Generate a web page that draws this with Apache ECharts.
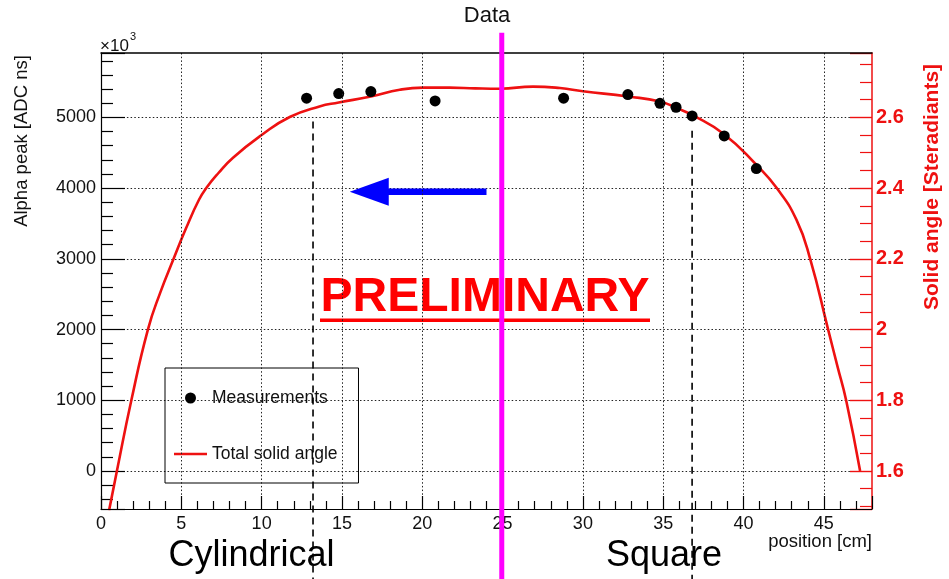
<!DOCTYPE html>
<html><head><meta charset="utf-8">
<script src="https://cdn.jsdelivr.net/npm/echarts@6/dist/echarts.min.js"></script>
<style>html,body{margin:0;padding:0;background:#fff}#chart{width:949px;height:579px}</style>
</head><body><div id="chart"></div>
<script>
// ---- data ----
const measPosition = [12.8, 14.8, 16.8, 20.8, 28.8, 32.8, 34.8, 35.8, 36.8, 38.8, 40.8];
const measAlphaPeak = [5272, 5337, 5365, 5233, 5272, 5322, 5198, 5143, 5021, 4738, 4276];

const curvePosition = [0.5, 0.99, 1.89, 2.92, 3.7, 4.52, 5.3, 6.1, 6.6, 7.3, 8.22, 10.0, 11.75, 13.6, 14.8, 16.8, 18.6, 20.06, 21.7, 23.3, 24.84, 26.9, 28.57, 30.0, 32.8, 34.8, 35.85, 36.8, 38.77, 40.8, 42.07, 43.3, 44.15, 45.27, 45.85, 46.39, 47.26];
const curveSolidAngle = [1.488, 1.600, 1.800, 2.000, 2.106, 2.200, 2.287, 2.367, 2.403, 2.442, 2.486, 2.550, 2.601, 2.631, 2.642, 2.659, 2.678, 2.684, 2.684, 2.682, 2.681, 2.687, 2.683, 2.674, 2.659, 2.645, 2.626, 2.607, 2.553, 2.466, 2.400, 2.310, 2.200, 2.000, 1.896, 1.800, 1.600];

const xTickLabels = [0, 5, 10, 15, 20, 25, 30, 35, 40, 45];
const leftTickLabels = [0, 1000, 2000, 3000, 4000, 5000];
const rightTickLabels = [1.6, 1.8, 2.0, 2.2, 2.4, 2.6];

const cylEdgeCm = 13.2, cylEdgeTop = 4940;
const sqEdgeCm = 36.8, sqEdgeTop = 4810;
const dividerCm = 24.95, dividerTop = 6195;
const lineBottom = -1700;
const arrowFrom = [24.0, 3950], arrowShaftEnd = [17.1, 3950], arrowHead = [16.7, 3950];

const xRange = [0, 48], leftRange = [-537, 5910], rightRange = [1.4926, 2.782];

const FONT = "'Liberation Sans', Arial, Helvetica, sans-serif";
const RED = '#ee1111';

const chart = echarts.init(document.getElementById('chart'), null, {renderer: 'canvas'});

const dotted = {type: [1.5, 2.2], color: '#222', width: 1};

const option = {
  animation: false,
  backgroundColor: '#fff',
  grid: {left: 101, right: 77, top: 53, bottom: 70, containLabel: false},
  xAxis: [{
    type: 'value', min: xRange[0], max: xRange[1], interval: 5, z: 8,
    axisLine: {onZero: false, lineStyle: {color: '#000', width: 1.2}},
    axisTick: {inside: true, length: 13, lineStyle: {color: '#000', width: 1.2}},
    minorTick: {show: true, splitNumber: 5, length: 8, lineStyle: {color: '#000', width: 1.2}},
    splitLine: {show: true, showMinLine: false, showMaxLine: false, lineStyle: dotted},
    axisLabel: {fontSize: 18, color: '#111', fontFamily: FONT, margin: 6,
      formatter: v => xTickLabels.indexOf(v) >= 0 ? String(v) : ''}
  }, {
    type: 'value', position: 'top', min: xRange[0], max: xRange[1], z: 8,
    axisLine: {show: true, onZero: false, lineStyle: {color: '#000', width: 1.5}},
    axisTick: {show: false}, axisLabel: {show: false}, splitLine: {show: false}
  }],
  yAxis: [{
    type: 'value', min: leftRange[0], max: leftRange[1], splitNumber: 6,
    axisLine: {show: true, onZero: false, lineStyle: {color: '#000', width: 1.2}},
    axisTick: {show: true, inside: true, length: 24, lineStyle: {color: '#000', width: 1.2}},
    minorTick: {show: true, splitNumber: 5, length: 12, lineStyle: {color: '#000', width: 1.2}},
    splitLine: {show: true, showMinLine: false, showMaxLine: false, lineStyle: dotted},
    axisLabel: {fontSize: 18, color: '#111', fontFamily: FONT, margin: 5,
      formatter: v => leftTickLabels.indexOf(v) >= 0 ? String(v) : ''}
  }, {
    type: 'value', position: 'right', min: rightRange[0], max: rightRange[1], splitNumber: 6,
    axisLine: {show: true, onZero: false, lineStyle: {color: RED, width: 1.5}},
    axisTick: {show: true, inside: true, length: 22, lineStyle: {color: RED, width: 1.4}},
    minorTick: {show: true, splitNumber: 4, length: 12, lineStyle: {color: RED, width: 1.2}},
    splitLine: {show: false},
    axisLabel: {fontSize: 20, fontWeight: 'bold', color: RED, fontFamily: FONT, margin: 4,
      formatter: v => {
        const m = rightTickLabels.find(t => Math.abs(t - v) < 1e-6);
        return m === undefined ? '' : String(m);
      }}
  }],
  legend: {
    orient: 'vertical', left: 165, top: 368,
    padding: [21, 21, 20, 9], itemGap: 38, itemWidth: 33, itemHeight: 11,
    borderColor: '#000', borderWidth: 1, backgroundColor: 'transparent',
    selectedMode: false,
    textStyle: {fontSize: 17.5, color: '#111', fontFamily: FONT},
    data: [
      {name: 'Measurements', icon: 'circle', itemStyle: {color: '#000', opacity: 1}},
      {name: 'Total solid angle', icon: 'path://M0,0 L40,0 L40,3 L0,3 Z', itemStyle: {color: RED, borderWidth: 0}}
    ]
  },
  series: [
    {
      name: 'Total solid angle', type: 'line', xAxisIndex: 0, yAxisIndex: 1,
      data: curvePosition.map((x, i) => [x, curveSolidAngle[i]]),
      symbol: 'none', smooth: 0.5, clip: true,
      lineStyle: {color: RED, width: 2.6}, itemStyle: {color: RED}, z: 3
    },
    {
      name: 'Measurements', type: 'scatter', xAxisIndex: 0, yAxisIndex: 0,
      data: measPosition.map((x, i) => [x, measAlphaPeak[i]]),
      symbol: 'circle', symbolSize: 11, itemStyle: {color: '#000', opacity: 1}, z: 4
    },
    {
      type: 'line', xAxisIndex: 0, yAxisIndex: 0, clip: false, silent: true, symbol: 'none',
      data: [[cylEdgeCm, cylEdgeTop], [cylEdgeCm, lineBottom]],
      lineStyle: {color: '#000', width: 1.6, type: [7, 5]}, z: 5
    },
    {
      type: 'line', xAxisIndex: 0, yAxisIndex: 0, clip: false, silent: true, symbol: 'none',
      data: [[sqEdgeCm, sqEdgeTop], [sqEdgeCm, lineBottom]],
      lineStyle: {color: '#000', width: 1.6, type: [7, 5]}, z: 5
    },
    {
      type: 'line', xAxisIndex: 0, yAxisIndex: 0, clip: false, silent: true, symbol: 'none',
      data: [arrowFrom, arrowShaftEnd],
      lineStyle: {color: '#0000ff', width: 6.5}, z: 6
    },
    {
      type: 'scatter', xAxisIndex: 0, yAxisIndex: 0, silent: true,
      data: [arrowHead], symbol: 'triangle', symbolSize: [28, 39], symbolRotate: 90,
      itemStyle: {color: '#0000ff', opacity: 1}, z: 6
    },
    {
      type: 'line', xAxisIndex: 0, yAxisIndex: 0, clip: false, silent: true, symbol: 'none',
      data: [[dividerCm, dividerTop], [dividerCm, lineBottom]],
      lineStyle: {color: '#ff00ff', width: 5}, z: 20
    }
  ],
  graphic: [
    {type: 'text', x: 487, y: 16, z: 10, style: {text: 'Data', fill: '#111', font: '22px ' + FONT, align: 'center', verticalAlign: 'middle'}},
    {type: 'text', x: 100, y: 46, z: 10, style: {text: '\u00d710', fill: '#111', font: '17px ' + FONT, align: 'left', verticalAlign: 'middle'}},
    {type: 'text', x: 130, y: 37, z: 10, style: {text: '3', fill: '#111', font: '11px ' + FONT, align: 'left', verticalAlign: 'middle'}},
    {type: 'text', x: 22, y: 141, rotation: Math.PI / 2, z: 10, style: {text: 'Alpha peak [ADC ns]', fill: '#111', font: '18.5px ' + FONT, align: 'center', verticalAlign: 'middle'}},
    {type: 'text', x: 932, y: 187, rotation: Math.PI / 2, z: 10, style: {text: 'Solid angle [Steradiants]', fill: RED, font: 'bold 21px ' + FONT, align: 'center', verticalAlign: 'middle'}},
    {type: 'text', x: 872, y: 542, z: 10, style: {text: 'position [cm]', fill: '#111', font: '18.5px ' + FONT, align: 'right', verticalAlign: 'middle'}},
    {type: 'text', x: 251.5, y: 556, z: 10, style: {text: 'Cylindrical', fill: '#000', font: '36px ' + FONT, align: 'center', verticalAlign: 'middle'}},
    {type: 'text', x: 664, y: 556, z: 10, style: {text: 'Square', fill: '#000', font: '36px ' + FONT, align: 'center', verticalAlign: 'middle'}},
    {type: 'text', x: 485, y: 298, z: 1, style: {text: 'PRELIMINARY', fill: '#ff0000', font: 'bold 48px ' + FONT, align: 'center', verticalAlign: 'middle'}},
    {type: 'rect', z: 1, shape: {x: 320, y: 318.5, width: 330, height: 3.5}, style: {fill: '#ff0000'}}
  ]
};
chart.setOption(option);
</script>
</body></html>
